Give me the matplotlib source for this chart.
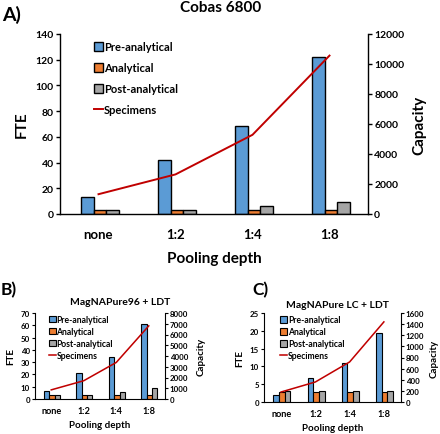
import matplotlib
matplotlib.use("Agg")
import matplotlib.pyplot as plt
import numpy as np

plt.rcParams['font.family'] = ['Lato', 'DejaVu Sans']
WT = "bold"
plt.rcParams['font.weight'] = WT

categories = ["none", "1:2", "1:4", "1:8"]
series_names = ["Pre-analytical", "Analytical", "Post-analytical"]
line_name = "Specimens"

# Panel A: Cobas 6800
a_pre = [13.5, 42, 68.5, 122]
a_ana = [3, 3, 3, 3]
a_post = [3, 3, 6, 9]
a_spec = [1320, 2640, 5280, 10560]

# Panel B: MagNAPure96 + LDT
b_pre = [6.5, 21, 34.5, 61]
b_ana = [3, 3, 3, 3]
b_post = [3, 3, 6, 9]
b_spec = [850, 1700, 3400, 6800]

# Panel C: MagNAPure LC + LDT
c_pre = [2.1, 6.7, 11, 19.5]
c_ana = [2.9, 2.9, 2.9, 2.9]
c_post = [3, 3, 3, 3]
c_spec = [180, 360, 720, 1440]

colors = ["#5B9BD5", "#ED7D31", "#A5A5A5"]
red = "#C00000"

W, H = 440, 435
fig = plt.figure(figsize=(W / 100, H / 100), dpi=100)


def px_axes(l, t, r, b):
    return fig.add_axes([l / W, 1 - b / H, (r - l) / W, (b - t) / H])


def panel(rect, pre, ana, post, spec, ylim, yticks, y2lim, y2ticks, title, title_xy,
          letter, letter_xy, fs, xfs, lfs, tfs, xlfs, lettfs, leg_anchor, labsp,
          lw, tl, xtpad, xlab_pad, ylab_pad, y2lab_pad):
    ax = px_axes(*rect)
    x = np.arange(len(categories))
    bw = 0.165
    for i, (vals, c, name) in enumerate(zip([pre, ana, post], colors, series_names)):
        ax.bar(x + (i - 1) * bw + 0.02, vals, bw, color=c, edgecolor="black",
               linewidth=lw, label=name, zorder=2)
    ax.set_xlim(-0.5, 3.5)
    ax.set_ylim(*ylim)
    ax.set_yticks(yticks)
    ax.set_xticks(x)
    ax.set_xticklabels(categories, fontsize=xfs, fontweight=WT)
    ax.tick_params(axis="x", length=0, pad=xtpad)
    ax.tick_params(axis="y", labelsize=fs, length=tl, width=lw, pad=1.5)
    for lab in ax.get_yticklabels():
        lab.set_fontweight(WT)
    ax.spines["top"].set_visible(False)
    ax.spines["right"].set_visible(False)
    for s in ["left", "bottom"]:
        ax.spines[s].set_linewidth(lw)
    ax.set_ylabel("FTE", fontsize=xlfs, fontweight=WT, labelpad=ylab_pad)
    ax.set_xlabel("Pooling depth", fontsize=xlfs, fontweight=WT, labelpad=xlab_pad)
    fig.text(title_xy[0] / W, 1 - title_xy[1] / H, title, fontsize=tfs,
             fontweight=WT, ha="center", va="center")

    ax2 = ax.twinx()
    ax2.plot(x, spec, color=red, linewidth=lw * 1.4, label=line_name, zorder=3)
    ax2.set_ylim(*y2lim)
    ax2.set_yticks(y2ticks)
    ax2.tick_params(axis="y", labelsize=fs, length=tl, width=lw, pad=1.5)
    for lab in ax2.get_yticklabels():
        lab.set_fontweight(WT)
    for s in ["top", "left", "bottom"]:
        ax2.spines[s].set_visible(False)
    ax2.spines["right"].set_linewidth(lw)
    ax2.set_ylabel("Capacity", fontsize=xlfs, fontweight=WT, labelpad=y2lab_pad)

    h1, l1 = ax.get_legend_handles_labels()
    h2, l2 = ax2.get_legend_handles_labels()
    ax2.legend(h1 + h2, l1 + l2, loc="upper left", bbox_to_anchor=leg_anchor,
               frameon=False, handlelength=0.8, handleheight=0.8,
               handletextpad=0.1, labelspacing=labsp, borderpad=0,
               borderaxespad=0, prop={"size": lfs, "weight": WT})
    fig.text(letter_xy[0] / W, 1 - letter_xy[1] / H, letter, fontsize=lettfs,
             fontweight=WT, ha="left", va="center")
    return ax, ax2


panel((60, 35, 368, 215), a_pre, a_ana, a_post, a_spec,
      (0, 140), range(0, 141, 20), (0, 12000), range(0, 12001, 2000),
      "Cobas 6800", (221, 8), "A)", (2, 15), 7.5, 9.5, 8, 11, 11, 14,
      (0.11, 0.96), 0.9, 1.0, 3, 10, 8, 5, 6)

panel((35, 314, 165, 400), b_pre, b_ana, b_post, b_spec,
      (0, 70), range(0, 71, 10), (0, 8000), range(0, 8001, 1000),
      "MagNAPure96 + LDT", (120, 303), "B)", (1, 290), 5.7, 6.6, 6.2, 7.5, 7, 12.5,
      (0.105, 0.975), 0.35, 0.8, 2, 5, 4, 4, 6)

panel((264, 314, 401, 403), c_pre, c_ana, c_post, c_spec,
      (0, 25), range(0, 26, 5), (0, 1600), range(0, 1601, 200),
      "MagNAPure LC + LDT", (337, 305), "C)", (252, 290), 5.7, 6.6, 6.2, 7.5, 7, 12.5,
      (0.12, 0.975), 0.35, 0.8, 2, 5, 4, 4, 4)

fig.savefig("out.png", dpi=100)
